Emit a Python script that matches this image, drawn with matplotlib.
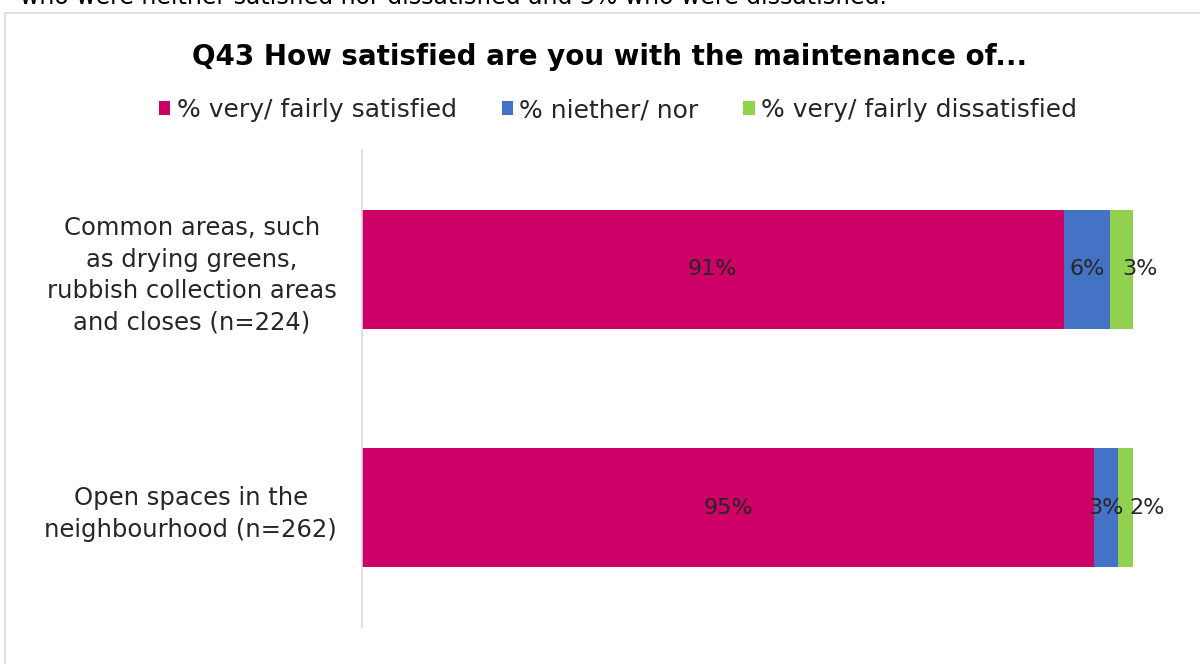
from matplotlib import pyplot as plt
from matplotlib.patches import Rectangle

categories = ['Open spaces in the\nneighbourhood (n=262)',
              'Common areas, such\nas drying greens,\nrubbish collection areas\nand closes (n=224)']
series_names = ['% very/ fairly satisfied', '% niether/ nor', '% very/ fairly dissatisfied']
satisfied = [95, 91]
neither = [3, 6]
dissatisfied = [2, 3]
colours = ['#CC0066', '#4472C4', '#92D050']

plt.rcParams['font.family'] = ['DejaVu Sans']

fig = plt.figure(figsize=(12, 6.64), dpi=100)
fig.patches.append(Rectangle((5 / 1200., -0.1), 1.2, 1.1 - 13 / 664., transform=fig.transFigure,
                             fill=False, edgecolor='#D9D9D9', linewidth=1.2))
# last line of the paragraph above the chart, mostly off the top
fig.text(20 / 1200., 1 - 4 / 664., 'who were neither satisfied nor dissatisfied and 3% who were dissatisfied.',
         fontsize=17, va='baseline', ha='left', color='#000000')

axes = fig.add_axes([362 / 1200., 1 - 627 / 664., (1133 - 362) / 1200., (627 - 150) / 664.])

ypos = range(len(categories))
left = [0] * len(categories)
for values, name, c in zip([satisfied, neither, dissatisfied], series_names, colours):
    axes.barh(ypos, values, left=left, height=0.5, color=c, label=name)
    for i, v in enumerate(values):
        if c == colours[2]:
            axes.annotate('%d%%' % v, (left[i], i), xytext=(12, 0), textcoords='offset pixels',
                          ha='left', va='center', fontsize=16, color='#262626')
        else:
            axes.text(left[i] + v / 2., i, '%d%%' % v, ha='center', va='center',
                      fontsize=16, color='#262626')
    left = [l + v for l, v in zip(left, values)]

axes.set_xlim(0, 100)
axes.set_ylim(-0.5, 1.5)
axes.set_yticks(list(ypos))
axes.set_yticklabels(categories, fontsize=17.5, multialignment='center', linespacing=1.4,
                     color='#262626')
axes.set_xticks([])
axes.tick_params(axis='y', length=0, pad=18)
for s in ['top', 'right', 'bottom']:
    axes.spines[s].set_visible(False)
axes.spines['left'].set_color('#D9D9D9')
axes.spines['left'].set_linewidth(1.2)

fig.text(610 / 1200., 1 - 57 / 664., 'Q43 How satisfied are you with the maintenance of...',
         ha='center', va='center', fontsize=20, fontweight='bold')
fig.legend(loc='center', bbox_to_anchor=(618 / 1200., 1 - 110 / 664.), ncol=3, frameon=False,
           fontsize=18, handlelength=0.45, handleheight=0.45, handletextpad=0.25, columnspacing=1.8,
           labelcolor='#262626')

plt.savefig('out.png')
